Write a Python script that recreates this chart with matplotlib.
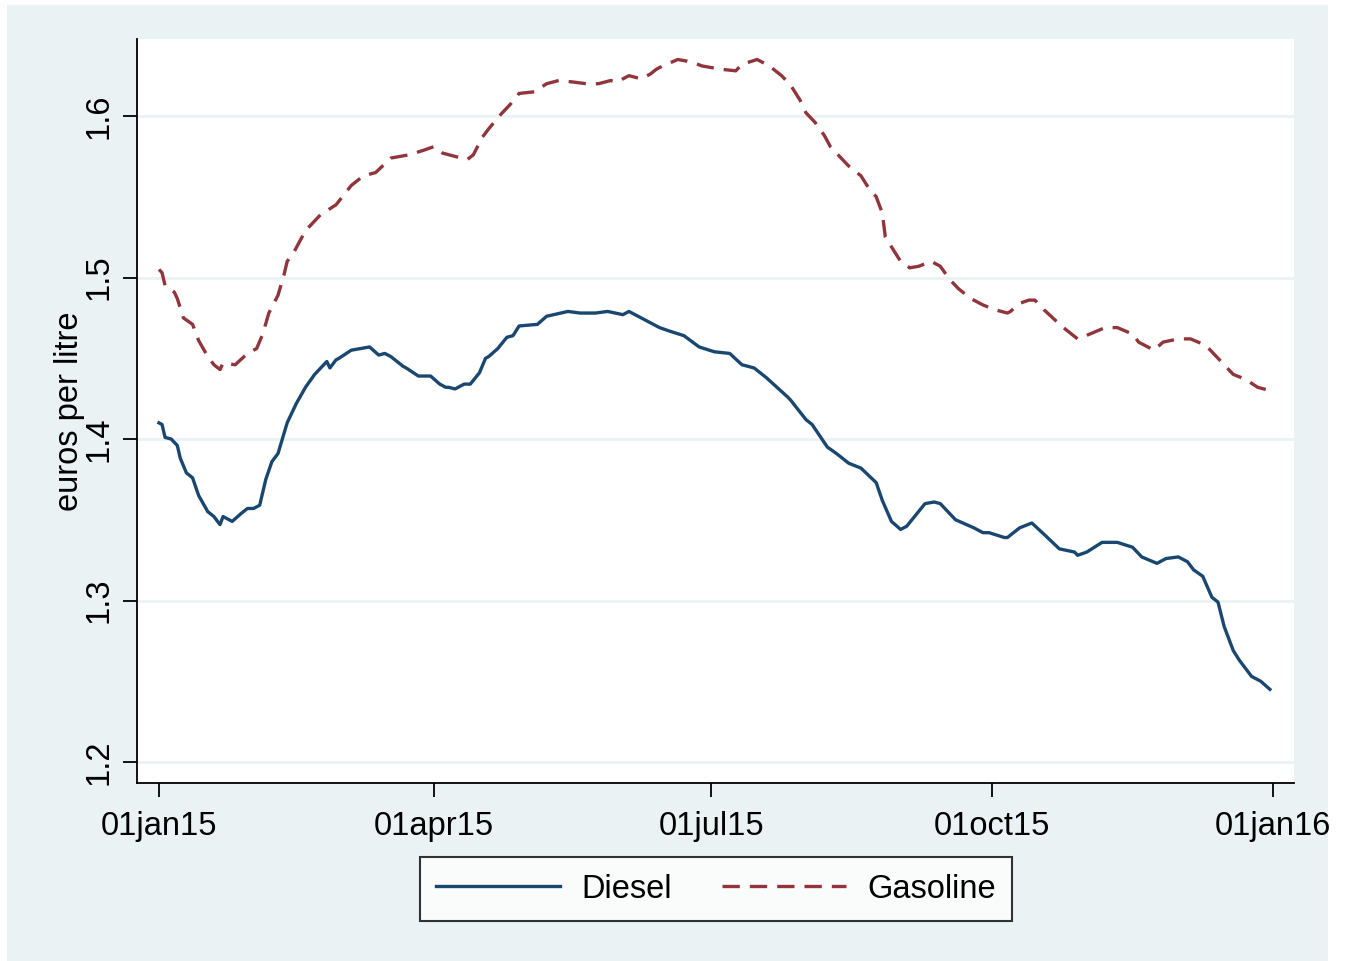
import pandas as pd
import matplotlib.pyplot as plt
from matplotlib.patches import Rectangle

# days since 01jan2015
diesel_day = [0, 1, 2, 4, 6, 7, 9, 11, 13, 16, 18, 20, 21, 24, 27, 29, 31, 33, 35, 37,
              39, 42, 45, 48, 51, 54, 55, 56, 58, 59, 63, 66, 69, 72, 74, 76, 80, 81, 85, 89,
              92, 94, 95, 97, 100, 102, 105, 107, 108, 111, 114, 116, 118, 124, 127, 134, 138, 143, 147, 152,
              154, 158, 161, 164, 167, 172, 177, 182, 187, 191, 195, 199, 206, 207, 212, 214, 219, 222, 226, 230,
              235, 237, 240, 243, 245, 248, 251, 254, 256, 261, 267, 270, 272, 277, 278, 282, 286, 290, 295, 300,
              301, 304, 309, 314, 319, 322, 327, 330, 334, 337, 339, 342, 345, 347, 349, 352, 354, 358, 361, 364]
diesel = [1.410, 1.409, 1.401, 1.400, 1.396, 1.388, 1.379, 1.376, 1.365, 1.355, 1.352, 1.347, 1.352, 1.349, 1.354, 1.357, 1.357, 1.359, 1.375, 1.386,
          1.391, 1.410, 1.422, 1.432, 1.440, 1.446, 1.448, 1.444, 1.449, 1.450, 1.455, 1.456, 1.457, 1.452, 1.453, 1.451, 1.445, 1.444, 1.439, 1.439,
          1.434, 1.432, 1.432, 1.431, 1.434, 1.434, 1.441, 1.450, 1.451, 1.456, 1.463, 1.464, 1.470, 1.471, 1.476, 1.479, 1.478, 1.478, 1.479, 1.477,
          1.479, 1.475, 1.472, 1.469, 1.467, 1.464, 1.457, 1.454, 1.453, 1.446, 1.444, 1.438, 1.426, 1.424, 1.412, 1.409, 1.395, 1.391, 1.385, 1.382,
          1.373, 1.362, 1.349, 1.344, 1.346, 1.353, 1.360, 1.361, 1.360, 1.350, 1.345, 1.342, 1.342, 1.339, 1.339, 1.345, 1.348, 1.341, 1.332, 1.330,
          1.328, 1.330, 1.336, 1.336, 1.333, 1.327, 1.323, 1.326, 1.327, 1.324, 1.319, 1.315, 1.302, 1.299, 1.284, 1.269, 1.263, 1.253, 1.250, 1.245]

gas_day = [0, 1, 2, 5, 6, 8, 11, 13, 16, 18, 20, 21, 25, 29, 32, 34, 36, 39, 41, 42,
           44, 48, 53, 58, 63, 67, 71, 76, 82, 87, 90, 93, 97, 101, 103, 106, 108, 112, 115, 118,
           123, 127, 131, 136, 140, 144, 148, 150, 154, 158, 161, 163, 165, 170, 173, 175, 178, 184, 189, 191,
           196, 200, 204, 207, 210, 212, 215, 218, 220, 223, 226, 230, 232, 235, 237, 238, 241, 243, 246, 249,
           253, 256, 259, 262, 266, 270, 274, 278, 279, 282, 285, 287, 290, 294, 297, 301, 305, 310, 314, 319,
           321, 326, 329, 334, 338, 343, 346, 349, 352, 356, 360, 364]
gasoline = [1.505, 1.503, 1.495, 1.491, 1.487, 1.475, 1.471, 1.461, 1.451, 1.446, 1.443, 1.447, 1.446, 1.453, 1.456, 1.465, 1.478, 1.489, 1.502, 1.510,
            1.515, 1.529, 1.539, 1.545, 1.557, 1.563, 1.565, 1.574, 1.576, 1.579, 1.581, 1.577, 1.575, 1.573, 1.576, 1.587, 1.592, 1.601, 1.607, 1.614,
            1.615, 1.620, 1.622, 1.621, 1.620, 1.620, 1.622, 1.621, 1.625, 1.623, 1.626, 1.629, 1.631, 1.635, 1.634, 1.633, 1.631, 1.629, 1.628, 1.632,
            1.635, 1.631, 1.625, 1.619, 1.610, 1.602, 1.596, 1.588, 1.581, 1.575, 1.569, 1.563, 1.557, 1.550, 1.540, 1.525, 1.516, 1.510, 1.506, 1.507,
            1.510, 1.507, 1.499, 1.493, 1.487, 1.483, 1.480, 1.478, 1.479, 1.484, 1.486, 1.486, 1.480, 1.473, 1.468, 1.462, 1.465, 1.469, 1.469, 1.465,
            1.460, 1.455, 1.460, 1.462, 1.462, 1.458, 1.452, 1.446, 1.440, 1.437, 1.432, 1.430]

tick_dates = ['2015-01-01', '2015-04-01', '2015-07-01', '2015-10-01', '2016-01-01']
tick_labels = ['01jan15', '01apr15', '01jul15', '01oct15', '01jan16']
y_ticks = [1.2, 1.3, 1.4, 1.5, 1.6]

start = pd.Timestamp('2015-01-01')
diesel_x = start + pd.to_timedelta(diesel_day, unit='D')
gas_x = start + pd.to_timedelta(gas_day, unit='D')

bg = '#eaf2f3'
plt.rcParams['font.family'] = ['Liberation Sans', 'DejaVu Sans']

fig = plt.figure(figsize=(13.5, 9.61), dpi=100, facecolor='white')
fig.patches.append(Rectangle((7 / 1350, 0), 1321 / 1350, 1 - 5 / 961,
                             transform=fig.transFigure, facecolor=bg,
                             edgecolor='none', zorder=-10))
ax = fig.add_axes([137 / 1350, 1 - 783 / 961, 1157 / 1350, 744 / 961])
ax.set_facecolor('white')

ax.plot(diesel_x, diesel, color='#1a476f', lw=2.4, label='Diesel')
ax.plot(gas_x, gasoline, color='#90353b', lw=2.4, dashes=(5.2, 3.0), label='Gasoline')

ax.set_xlim(start - pd.Timedelta(days=7.2), start + pd.Timedelta(days=371.9))
ax.set_ylim(1.187, 1.6477)
ax.set_xticks(pd.to_datetime(tick_dates))
ax.set_xticklabels(tick_labels)
ax.set_yticks(y_ticks)
ax.set_yticklabels([str(v) for v in y_ticks], rotation=90, va='center')
ax.tick_params(axis='both', labelsize=23.5, length=10, width=1.3, color='black')
ax.tick_params(axis='x', pad=10)
ax.tick_params(axis='y', pad=6)
ax.grid(axis='y', color=bg, lw=2)
ax.set_axisbelow(True)
for s in ['top', 'right']:
    ax.spines[s].set_visible(False)
for s in ['left', 'bottom']:
    ax.spines[s].set_linewidth(1.3)
ax.set_ylabel('euros per litre', fontsize=23.5, labelpad=-1)

leg = fig.legend(loc='center', bbox_to_anchor=(716 / 1350, 1 - 889 / 961), ncol=2,
                 fontsize=23.5, frameon=True, fancybox=False, handlelength=3.8,
                 handletextpad=0.65, columnspacing=1.55, borderpad=0.5)
leg.get_frame().set_edgecolor('black')
leg.get_frame().set_linewidth(1.5)

fig.savefig('out.png', dpi=100, facecolor=fig.get_facecolor())
